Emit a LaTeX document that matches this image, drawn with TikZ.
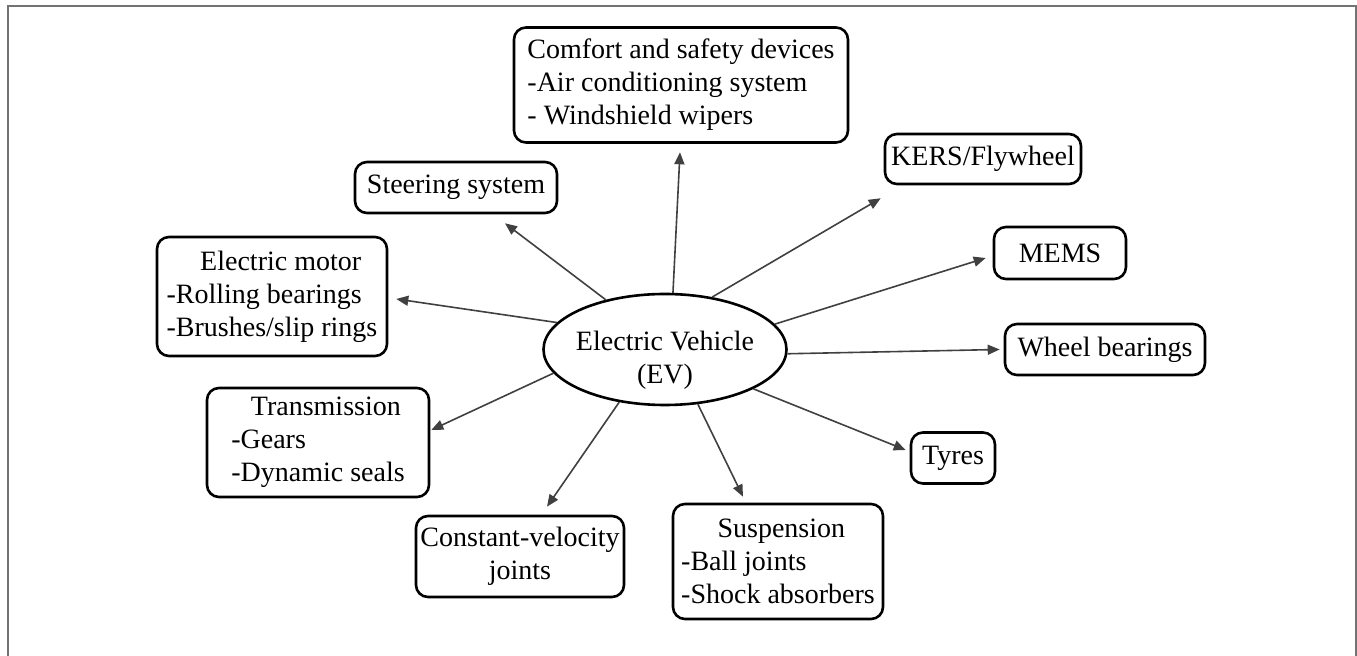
\documentclass[tikz,border=0pt]{standalone}
\usepackage{fontspec}
\setmainfont{Liberation Serif}
\usetikzlibrary{arrows.meta,shapes.geometric}

\begin{document}
\begin{tikzpicture}
[x=0.5pt, y=-0.5pt,
every node/.style={font=\fontsize{14}{16.5}\selectfont, inner sep=0pt},
box/.style={draw, line width=1.3pt, rounded corners=6pt},
arr/.style={draw=black!75, line width=0.8pt, -{Triangle[length=6pt,width=5pt]}},
]
\useasboundingbox (0,0) rectangle (1357,656);
\draw[black!55, line width=1pt] (8,656) -- (8,6) -- (1356,6) -- (1356,656);

\node[draw, ellipse, line width=1.3pt, minimum width=121.5pt, minimum height=55.5pt]
  (ev) at (665,349.5) {};
\node[align=center] (evtext) at (665,360) {Electric Vehicle\\(EV)};

\node[box, minimum width=167pt, minimum height=57.5pt, align=left] (comfort) at (681,85)
  {Comfort and safety devices\\-Air conditioning system\\- Windshield wipers};
\node[box, minimum width=101pt, minimum height=25.5pt] (steer) at (456,187.5) {Steering system};
\node[box, minimum width=98pt, minimum height=25pt] (kers) at (983,159) {KERS/Flywheel};
\node[box, minimum width=66pt, minimum height=26pt] (mems) at (1060,253) {MEMS};
\node[box, minimum width=100pt, minimum height=25.5pt] (wheel) at (1105,349.5) {Wheel bearings};
\node[box, minimum width=42pt, minimum height=25.5pt] (tyres) at (953,458) {Tyres};
\node[box, minimum width=115pt, minimum height=59.5pt, align=left] (motor) at (272,296.5)
  {\hspace*{1.2em}Electric motor\\-Rolling bearings\\-Brushes/slip rings};
\node[box, minimum width=111pt, minimum height=54.5pt, align=left] (trans) at (318,442.5)
  {\hspace*{0.7em}Transmission\\-Gears\\-Dynamic seals};
\node[box, minimum width=104pt, minimum height=40.5pt, align=center] (cv) at (520,556.5)
  {Constant-velocity\\joints};
\node[box, minimum width=105pt, minimum height=57.5pt, align=left] (susp) at (778,561.5)
  {\hspace*{1.3em}Suspension\\-Ball joints\\-Shock absorbers};

% connectors from the vehicle
\draw[arr] (ev.82) -- ([shift={(-1,8.5)}]comfort.south);
\draw[arr] (ev.140.5) -- ([shift={(49,9)}]steer.south);
\draw[arr] (ev.48) -- ([shift={(-3,13)}]kers.south west);
\draw[arr] (ev.13) -- ([shift={(-7,5)}]mems.west);
\draw[arr] (ev.-2.5) -- ([shift={(-4,0)}]wheel.west);
\draw[arr] (ev.-24.8) -- ([shift={(-4,-8)}]tyres.west);
\draw[arr] (ev.-59.6) -- ([shift={(-35,-6)}]susp.north);
\draw[arr] (ev.-131.8) -- ([shift={(27,-8)}]cv.north);
\draw[arr] (ev.192.6) -- ([shift={(1,-12.5)}]trans.east);
\draw[arr] (ev.166.3) -- ([shift={(8,2.5)}]motor.east);
\end{tikzpicture}
\end{document}
